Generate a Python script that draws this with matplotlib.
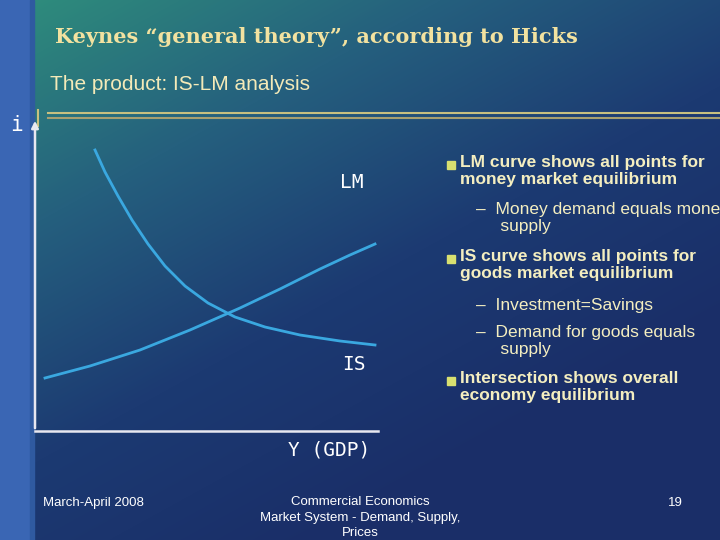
import numpy as np
import matplotlib
matplotlib.use("Agg")
import matplotlib.pyplot as plt
from matplotlib.colors import LinearSegmentedColormap

title = "Keynes \u201cgeneral theory\u201d, according to Hicks"
subtitle = "The product: IS-LM analysis"
is_x = [95, 105, 118, 132, 148, 165, 185, 208, 235, 265, 300, 340, 375]
is_y = [150, 172, 196, 220, 244, 266, 286, 303, 317, 327, 335, 341, 345]
lm_x = [45, 90, 140, 190, 240, 280, 320, 350, 375]
lm_y = [378, 366, 350, 330, 308, 289, 269, 255, 244]
bullets = [
    ("b", "LM curve shows all points for\nmoney market equilibrium"),
    ("s", "\u2013  Money demand equals mone\n     supply"),
    ("b", "IS curve shows all points for\ngoods market equilibrium"),
    ("s", "\u2013  Investment=Savings"),
    ("s", "\u2013  Demand for goods equals\n     supply"),
    ("b", "Intersection shows overall\neconomy equilibrium"),
]
bullet_y = [155, 202, 249, 298, 325, 371]

fig = plt.figure(figsize=(7.2, 5.4), dpi=100)
ax = fig.add_axes([0, 0, 1, 1])
ax.set_xlim(0, 720); ax.set_ylim(540, 0); ax.axis("off")

yy, xx = np.mgrid[0:540, 0:720]
t = np.clip((xx / 720 * 0.55 + yy / 540 * 0.75), 0, 1)
cmap = LinearSegmentedColormap.from_list("bg", ["#2f8f7c", "#25607e", "#1c3a72", "#1a2e68"])
ax.imshow(t, cmap=cmap, extent=[0, 720, 540, 0], aspect="auto", zorder=0)
ax.add_patch(plt.Rectangle((0, 0), 30, 540, color="#3a66b4", zorder=1))
ax.add_patch(plt.Rectangle((30, 0), 4, 540, color="#2f5aa0", zorder=1))

ax.text(55, 37, title, family="DejaVu Serif", fontweight="bold", fontsize=15,
        color="#f2e2a0", va="center", zorder=3)
ax.text(50, 85, subtitle, family="Liberation Sans", fontsize=15, color="#f4eab8",
        va="center", zorder=3)
ax.plot([48, 720], [113, 113], color="#c8c080", lw=1.5, zorder=3)
ax.plot([48, 720], [118, 118], color="#a8a070", lw=1.5, zorder=3)
ax.plot([38, 38], [110, 126], color="#c8c080", lw=1.5, zorder=3)

ax.annotate("", xy=(35, 118), xytext=(35, 431),
            arrowprops=dict(arrowstyle="-|>", color="#e8e8f0", lw=1.8), zorder=3)
ax.plot([35, 378], [431, 431], color="#e8e8f0", lw=1.8, zorder=3)
ax.text(10, 125, "i", fontsize=15, color="white", va="center", family="DejaVu Sans Mono", zorder=3)
ax.text(288, 450, "Y (GDP)", fontsize=14, color="white", va="center", family="DejaVu Sans Mono", zorder=3)
ax.plot(is_x, is_y, color="#3aa8e0", lw=2, zorder=3)
ax.plot(lm_x, lm_y, color="#3aa8e0", lw=2, zorder=3)
ax.text(340, 183, "LM", fontsize=14, color="white", va="center", family="DejaVu Sans Mono", zorder=3)
ax.text(342, 365, "IS", fontsize=14, color="white", va="center", family="DejaVu Sans Mono", zorder=3)

for (kind, txt), y in zip(bullets, bullet_y):
    if kind == "b":
        ax.plot(451, y + 10, marker="s", ms=6, color="#d8e070", zorder=3)
        ax.text(460, y, txt, fontsize=12.5, fontweight="bold", color="#f4eec0",
                va="top", ha="left", linespacing=1.2, family="Liberation Sans", zorder=3)
    else:
        ax.text(476, y, txt, fontsize=12.5, color="#f4eec0", va="top", ha="left",
                linespacing=1.2, family="Liberation Sans", zorder=3)

ax.text(43, 503, "March-April 2008", fontsize=9.5, color="white", va="center",
        family="Liberation Sans", zorder=3)
ax.text(360, 496, "Commercial Economics\nMarket System - Demand, Supply,\nPrices",
        fontsize=9.5, color="white", va="top", ha="center", linespacing=1.4,
        family="Liberation Sans", zorder=3)
ax.text(668, 503, "19", fontsize=9.5, color="white", va="center",
        family="Liberation Sans", zorder=3)
fig.savefig("out.png", dpi=100)
